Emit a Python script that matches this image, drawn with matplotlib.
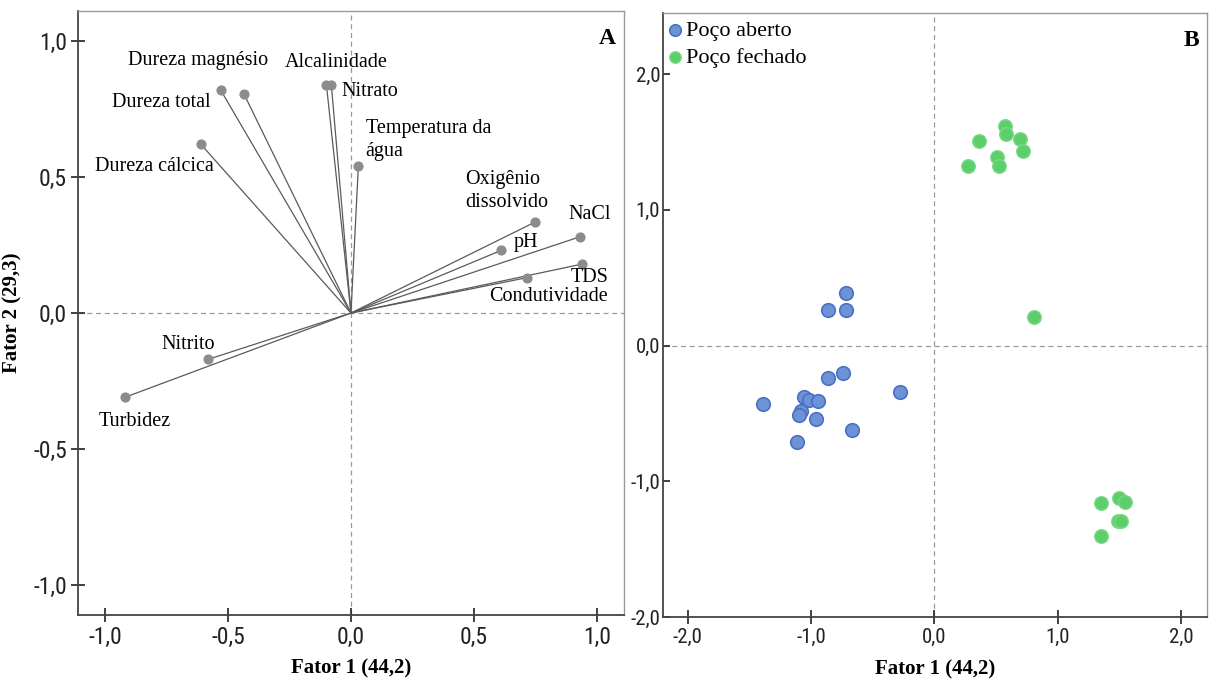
import matplotlib
matplotlib.use("Agg")
import matplotlib.pyplot as plt
from matplotlib import font_manager

# fontes
serif = "Liberation Serif"
instaladas = {f.name for f in font_manager.fontManager.ttflist}
if "Liberation Sans Narrow" in instaladas:
    tick_font = "Liberation Sans Narrow"
elif "Roboto Condensed" in instaladas:
    tick_font = "Roboto Condensed"
else:
    tick_font = "DejaVu Sans"

# Painel A - cargas das variáveis
variaveis = ["Dureza magnésio", "Dureza total", "Dureza cálcica", "Alcalinidade",
             "Nitrato", "Temperatura da\nágua", "Oxigênio\ndissolvido", "NaCl",
             "pH", "TDS", "Condutividade", "Nitrito", "Turbidez"]
fator1 = [-0.435, -0.53, -0.61, -0.10, -0.08, 0.03, 0.75, 0.93, 0.61, 0.94, 0.715, -0.58, -0.92]
fator2 = [0.805, 0.82, 0.62, 0.84, 0.84, 0.54, 0.335, 0.28, 0.23, 0.18, 0.13, -0.17, -0.31]

# Painel B - escores das amostras
aberto_x = [-0.72, -0.86, -0.72, -1.39, -1.06, -1.02, -0.94, -1.08, -1.10, -0.96, -1.11,
            -0.86, -0.74, -0.67, -0.28]
aberto_y = [0.39, 0.26, 0.26, -0.43, -0.38, -0.40, -0.41, -0.48, -0.51, -0.54, -0.71,
            -0.24, -0.20, -0.62, -0.34]
fechado_x = [0.57, 0.58, 0.36, 0.69, 0.72, 0.51, 0.52, 0.27, 0.81,
             1.35, 1.50, 1.545, 1.49, 1.51, 1.35]
fechado_y = [1.62, 1.56, 1.51, 1.52, 1.43, 1.39, 1.32, 1.32, 0.21,
             -1.16, -1.12, -1.15, -1.29, -1.29, -1.40]

# posição dos rótulos (layout)
rot_pos = [(-0.62, 0.93, "center"), (-0.77, 0.775, "center"), (-0.80, 0.54, "center"),
           (-0.06, 0.92, "center"), (0.075, 0.815, "center"), (0.06, 0.636, "left"),
           (0.463, 0.45, "left"), (0.97, 0.364, "center"), (0.71, 0.26, "center"),
           (0.97, 0.13, "center"), (0.805, 0.062, "center"), (-0.66, -0.115, "center"),
           (-0.88, -0.40, "center")]

fig = plt.figure(figsize=(12.09, 6.82), dpi=100)
axA = fig.add_axes([0.0645, 0.0982, 0.4516, 0.8856])
axB = fig.add_axes([0.5484, 0.0953, 0.450, 0.8856])


def estilo(ax):
    for s in ["left", "bottom"]:
        ax.spines[s].set_color("#444444")
        ax.spines[s].set_linewidth(1.3)
    for s in ["top", "right"]:
        ax.spines[s].set_color("#999999")
        ax.spines[s].set_linewidth(1.0)
    ax.axhline(0, color="#999999", lw=0.9, ls=(0, (4, 3)), zorder=0)
    ax.axvline(0, color="#999999", lw=0.9, ls=(0, (4, 3)), zorder=0)


def fmt(ax, size):
    ax.set_xticklabels([f"{v:.1f}".replace(".", ",") for v in ax.get_xticks()])
    ax.set_yticklabels([f"{v:.1f}".replace(".", ",") for v in ax.get_yticks()])
    for lab in ax.get_xticklabels() + ax.get_yticklabels():
        lab.set_family(tick_font)
        lab.set_fontstretch("condensed")
        lab.set_fontsize(size)
        lab.set_color("#222222")


# ---- A ----
estilo(axA)
for x, y in zip(fator1, fator2):
    axA.plot([0, x], [0, y], color="#5a5a5a", lw=0.9, zorder=2)
axA.scatter(fator1, fator2, s=40, color="#8c8c8c", zorder=3)
for nome, (tx, ty, ha) in zip(variaveis, rot_pos):
    axA.text(tx, ty, nome, ha=ha, va="center", fontsize=14.5, family=serif, linespacing=1.3)
axA.set_xlim(-1.11, 1.11)
axA.set_ylim(-1.11, 1.11)
axA.set_xticks([-1.0, -0.5, 0.0, 0.5, 1.0])
axA.set_yticks([-1.0, -0.5, 0.0, 0.5, 1.0])
axA.tick_params(direction="inout", length=10, width=1.3, color="#333333", pad=3)
fmt(axA, 17)
axA.set_xlabel("Fator 1 (44,2)", fontsize=15, fontweight="bold", family=serif)
axA.set_ylabel("Fator 2 (29,3)", fontsize=15, fontweight="bold", family=serif)
axA.xaxis.set_label_coords(0.5, -0.072)
axA.yaxis.set_label_coords(-0.102, 0.5)
axA.text(0.985, 0.955, "A", transform=axA.transAxes, ha="right", va="center",
         fontsize=17, fontweight="bold", family=serif)

# ---- B ----
estilo(axB)
axB.scatter(aberto_x, aberto_y, s=95, color="#6d93d6", edgecolors="#4a6fc4",
            linewidths=1.2, zorder=3, label="Poço aberto")
axB.scatter(fechado_x, fechado_y, s=95, color="#5ccf6a", edgecolors="#7ad886",
            linewidths=1.0, zorder=3, label="Poço fechado")
axB.set_xlim(-2.2, 2.21)
axB.set_ylim(-2.0, 2.45)
axB.set_xticks([-2.0, -1.0, 0.0, 1.0, 2.0])
axB.set_yticks([-2.0, -1.0, 0.0, 1.0, 2.0])
axB.tick_params(axis="x", direction="inout", length=10, width=1.3, color="#333333", pad=3)
axB.tick_params(axis="y", direction="in", length=5, width=1.3, color="#333333", pad=2)
fmt(axB, 15)
axB.set_xlabel("Fator 1 (44,2)", fontsize=15, fontweight="bold", family=serif)
axB.xaxis.set_label_coords(0.5, -0.070)
axB.text(0.985, 0.955, "B", transform=axB.transAxes, ha="right", va="center",
         fontsize=17, fontweight="bold", family=serif)
axB.legend(loc="upper left", bbox_to_anchor=(-0.008, 0.99), frameon=False,
           prop={"family": serif, "size": 16},
           handletextpad=-0.2, borderaxespad=0.0, labelspacing=0.28, markerscale=0.85,
           borderpad=0.05, handlelength=1.4)

fig.savefig("out.png", dpi=100)
